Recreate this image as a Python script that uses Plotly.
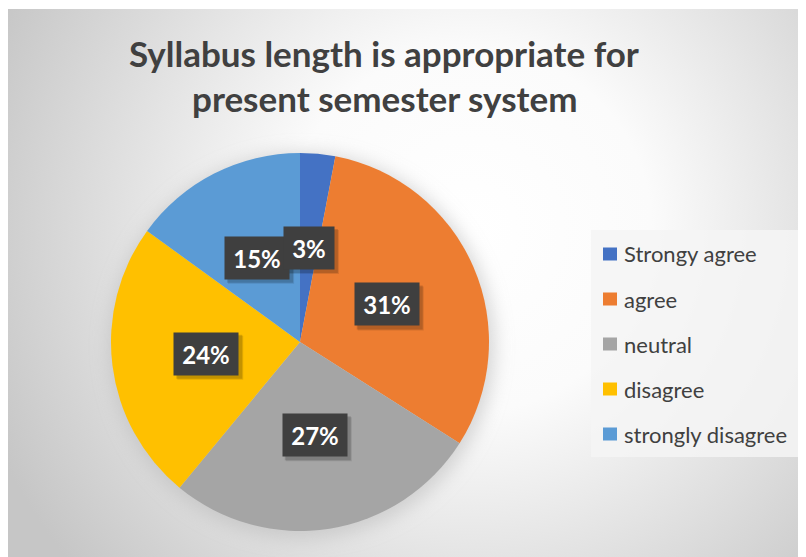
import base64
import math
import plotly.graph_objects as go

# ---- data ----
categories = ["Strongy agree", "agree", "neutral", "disagree", "strongly disagree"]
values = [3, 31, 27, 24, 15]
colors = ["#4472C4", "#ED7D31", "#A5A5A5", "#FFC000", "#5B9BD5"]
title_lines = ["Syllabus length is appropriate for", "present semester system"]

W, H = 806, 557
OX, OY = 8, 8  # page body margin offset
CX, CY, R = 300, 342, 189  # pie centre / radius in screen pixels


def px(x):
    return (x - OX) / W


def py(y):
    return 1 - (y - OY) / H


FONT = "Lato, 'Open Sans', sans-serif"

# background: radial gradient frame + soft pie shadow (screen coordinates)
svg = f'''<svg xmlns="http://www.w3.org/2000/svg" width="{W}" height="{H}" viewBox="0 0 {W} {H}">
<defs>
<radialGradient id="g" gradientUnits="userSpaceOnUse" cx="470" cy="230" r="520">
<stop offset="0" stop-color="#ffffff"/>
<stop offset="0.35" stop-color="#fbfbfb"/>
<stop offset="1" stop-color="#c6c6c6"/>
</radialGradient>
<filter id="b" x="-20%" y="-20%" width="140%" height="140%"><feGaussianBlur stdDeviation="9"/></filter>
</defs>
<g transform="translate({-OX},{-OY})">
<rect x="0" y="0" width="{W + 20}" height="{H + 20}" fill="#ffffff"/>
<rect x="7" y="9" width="{W + 20}" height="{H + 20}" fill="url(#g)"/>
<circle cx="{CX + 2}" cy="{CY + 4}" r="{R + 4}" fill="#b8b8b8" fill-opacity="0.55" filter="url(#b)"/>
</g>
</svg>'''
src = "data:image/svg+xml;base64," + base64.b64encode(svg.encode()).decode()

fig = go.Figure()
fig.add_trace(go.Pie(
    labels=categories,
    values=values,
    marker=dict(colors=colors, line=dict(width=0)),
    sort=False,
    direction="clockwise",
    rotation=0,
    textinfo="none",
    hoverinfo="label+percent",
    showlegend=False,
    domain=dict(x=[px(CX - R), px(CX + R)], y=[py(CY + R), py(CY - R)]),
))

annotations = []
shapes = []

# title
for i, line in enumerate(title_lines):
    annotations.append(dict(
        text=line, x=px(384), y=py(53 + 45 * i), xref="paper", yref="paper",
        showarrow=False, xanchor="center", yanchor="middle",
        font=dict(family=FONT, size=35, color="#404040", weight="bold"),
    ))

# data labels in dark boxes at half radius (first slice drawn last so it sits on top)
total = sum(values)
label_items = []
cum = 0
for v in values:
    mid = (cum + v / 2) / total * 2 * math.pi
    cum += v
    lx = CX + 0.5 * R * math.sin(mid)
    ly = CY - 0.5 * R * math.cos(mid)
    label_items.append((f"{round(100 * v / total)}%", lx, ly))

for txt, lx, ly in label_items[1:] + label_items[:1]:
    w = 14 + 14 * len(txt)
    bw, bh = w + 8, 42
    # soft drop shadow
    for k, a in ((4, 0.10), (3, 0.15)):
        shapes.append(dict(type="rect", xref="paper", yref="paper",
                           x0=px(lx - bw / 2 + k - 1), x1=px(lx + bw / 2 + k + 1),
                           y0=py(ly + bh / 2 + k + 1), y1=py(ly - bh / 2 + k - 1),
                           fillcolor=f"rgba(0,0,0,{a})", line=dict(width=0)))
    annotations.append(dict(text=txt, x=px(lx), y=py(ly), xref="paper", yref="paper", showarrow=False,
                            xanchor="center", yanchor="middle", width=w, height=34, borderpad=4,
                            bgcolor="#3f3f3f",
                            font=dict(family=FONT, size=24, color="#ffffff", weight="bold")))

# legend box
shapes.append(dict(type="rect", xref="paper", yref="paper",
                   x0=px(591), x1=px(801), y0=py(457), y1=py(230),
                   fillcolor="rgba(245,245,245,0.85)", line=dict(width=0), layer="below"))
for i, (cat, col) in enumerate(zip(categories, colors)):
    yc = 254 + 45 * i
    shapes.append(dict(type="rect", xref="paper", yref="paper",
                       x0=px(603), x1=px(617), y0=py(yc + 6.5), y1=py(yc - 6.5),
                       fillcolor=col, line=dict(width=0)))
    annotations.append(dict(
        text=cat, x=px(622), y=py(yc), xref="paper", yref="paper", showarrow=False,
        xanchor="left", yanchor="middle",
        font=dict(family=FONT, size=22, color="#404040"),
    ))

fig.update_layout(
    width=W, height=H,
    margin=dict(l=0, r=0, t=0, b=0),
    paper_bgcolor="#ffffff",
    plot_bgcolor="rgba(0,0,0,0)",
    images=[dict(source=src, xref="paper", yref="paper", x=0, y=1, sizex=1, sizey=1,
                 xanchor="left", yanchor="top", sizing="stretch", layer="below")],
    annotations=annotations,
    shapes=shapes,
    showlegend=False,
)

fig.write_html("out.html")
